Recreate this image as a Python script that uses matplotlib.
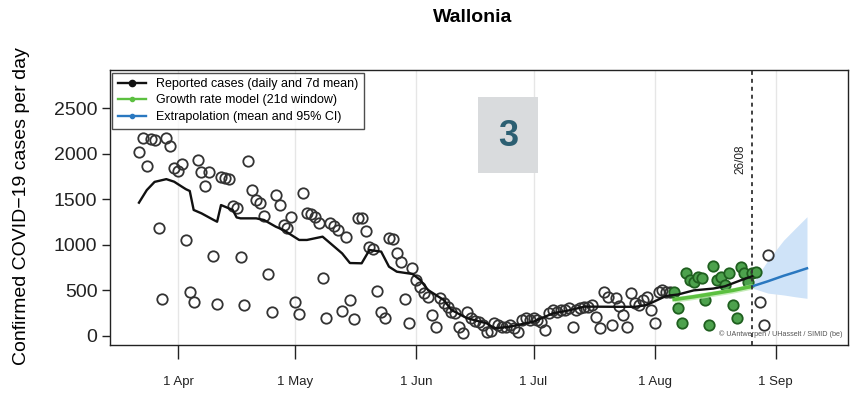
import numpy as np
import matplotlib
matplotlib.use('Agg')
import matplotlib.pyplot as plt
from matplotlib.lines import Line2D
from matplotlib.patches import Rectangle

plt.rcParams['font.family'] = ['Liberation Sans', 'DejaVu Sans']

# ---------------- data ----------------
start_date = '2020-03-22'
cases = [
    2021, 2167, 1864, 2160, 2150, 1181, 406, 2167, 2083, 1838,        # Mar 22 - Mar 31
    1813, 1883, 1053, 486, 369, 1930, 1801, 1645, 1795, 877,          # Apr 1 - Apr 10
    354, 1745, 1735, 1725, 1425, 1400, 863, 340, 1919, 1601,          # Apr 11 - Apr 20
    1491, 1455, 1316, 680, 259, 1546, 1436, 1217, 1181, 1300,         # Apr 21 - Apr 30
    377, 238, 1572, 1345, 1333, 1308, 1235, 640, 194, 1235,           # May 1 - May 10
    1206, 1162, 278, 1082, 395, 186, 1298, 1290, 1155, 972,           # May 11 - May 20
    951, 493, 259, 194, 1071, 1060, 906, 815, 402, 139,               # May 21 - May 30
    742, 614, 534, 470, 431, 230, 102, 413, 358, 322,                 # May 31 - Jun 9
    266, 249, 102, 36, 266, 194, 160, 157, 121, 40,                   # Jun 10 - Jun 19
    50, 139, 120, 100, 102, 120, 90, 47, 175, 194,                    # Jun 20 - Jun 29
    175, 197, 175, 150, 66, 249, 285, 266, 280, 285,                  # Jun 30 - Jul 9
    303, 102, 285, 303, 314, 320, 340, 212, 84, 486,                  # Jul 10 - Jul 19
    431, 121, 413, 330, 230, 102, 468, 358, 340, 395,                 # Jul 20 - Jul 29
    431, 285, 139, 486, 504, 486, 486, 486, 303, 139,                 # Jul 30 - Aug 8
    694, 614, 595, 650, 632, 395, 121, 768, 614, 650,                 # Aug 9 - Aug 18
    559, 694, 340, 194, 760, 687, 595, 687, 705, 376,                 # Aug 19 - Aug 28
    121, 888,                                                         # Aug 29 - Aug 30
]
model_window = ('2020-08-06', '2020-08-27')

mean_dates = ['2020-03-22', '2020-03-24', '2020-03-26', '2020-03-29', '2020-03-31',
              '2020-04-02', '2020-04-03', '2020-04-04', '2020-04-05', '2020-04-07',
              '2020-04-10', '2020-04-11', '2020-04-12', '2020-04-13', '2020-04-15',
              '2020-04-16', '2020-04-17', '2020-04-21', '2020-04-23', '2020-04-26',
              '2020-04-28', '2020-05-02', '2020-05-04', '2020-05-08', '2020-05-10',
              '2020-05-13', '2020-05-15', '2020-05-18', '2020-05-20', '2020-05-23',
              '2020-05-25', '2020-05-27', '2020-05-31', '2020-06-02', '2020-06-04',
              '2020-06-08', '2020-06-10', '2020-06-14', '2020-06-19', '2020-06-21',
              '2020-06-25', '2020-06-27', '2020-07-01', '2020-07-06', '2020-07-10',
              '2020-07-14', '2020-07-22', '2020-07-27', '2020-07-30', '2020-08-01',
              '2020-08-04', '2020-08-07', '2020-08-11', '2020-08-16', '2020-08-19',
              '2020-08-23', '2020-08-26']
mean_vals = [1462, 1600, 1690, 1720, 1692,
             1637, 1610, 1590, 1382, 1345,
             1275, 1253, 1436, 1418, 1382,
             1300, 1290, 1290, 1272, 1199,
             1162, 1053, 1053, 1089, 1016,
             906, 800, 797, 943, 925,
             760, 705, 680, 614, 504,
             395, 285, 194, 139, 84,
             102, 121, 157, 249, 280,
             322, 320, 320, 340, 380,
             440, 455, 500, 520, 545,
             610, 655]

model_dates = ['2020-08-06', '2020-08-11', '2020-08-16', '2020-08-21', '2020-08-26']
model_vals = [400, 430, 465, 500, 545]

extrap_dates = ['2020-08-26', '2020-08-30', '2020-09-03', '2020-09-06', '2020-09-09']
extrap_mean = [545, 600, 660, 700, 742]
extrap_low = [525, 470, 450, 430, 413]
extrap_high = [575, 830, 1050, 1180, 1308]

cutoff_date = '2020-08-26'
cutoff_label = '26/08'

month_ticks = ['2020-04-01', '2020-05-01', '2020-06-01', '2020-07-01', '2020-08-01', '2020-09-01']
month_labels = ['1 Apr', '1 May', '1 Jun', '1 Jul', '1 Aug', '1 Sep']
y_ticks = [0, 500, 1000, 1500, 2000, 2500]

title = 'Wallonia'
ylabel = 'Confirmed COVID\u221219 cases per day'
legend_labels = ['Reported cases (daily and 7d mean)',
                 'Growth rate model (21d window)',
                 'Extrapolation (mean and 95% CI)']
credit = '\u00a9 UAntwerpen / UHasselt / SIMID (be)'

# ---------------- figure ----------------
W, H = 854, 397
fig = plt.figure(figsize=(W / 100, H / 100), dpi=100)
ax_l, ax_r, ax_t, ax_b = 110, 848, 70, 345
ax = fig.add_axes([ax_l / W, 1 - ax_b / H, (ax_r - ax_l) / W, (ax_b - ax_t) / H])

dates = np.datetime64(start_date) + np.arange(len(cases))
cases_a = np.array(cases)
in_model = (dates >= np.datetime64(model_window[0])) & (dates <= np.datetime64(model_window[1]))

# grid at month starts
for m in month_ticks:
    ax.axvline(np.datetime64(m), color='#e6e6e6', lw=1.0, zorder=0)

# black points
ax.plot(dates[~in_model], cases_a[~in_model], 'o', mfc='none', mec='#333333',
        ms=7.5, mew=1.3, zorder=3)
# green points
ax.plot(dates[in_model], cases_a[in_model], 'o', mfc='#4da24d', mec='#1f5f1f',
        ms=7.5, mew=1.3, zorder=4)

# 7d mean line
ax.plot(np.array(mean_dates, dtype='datetime64[D]'), mean_vals, color='#111111',
        lw=1.7, zorder=5)

# growth model
md = np.array(model_dates, dtype='datetime64[D]')
mv = np.array(model_vals)
ax.fill_between(md, mv - 30, mv + 30, color='#b9e8aa', alpha=0.8, lw=0, zorder=5)
ax.plot(md, mv, color='#5cc040', lw=2.6, zorder=6)

# extrapolation
ed = np.array(extrap_dates, dtype='datetime64[D]')
ax.fill_between(ed, extrap_low, extrap_high, color='#cfe3f8', lw=0, zorder=2)
ax.plot(ed, extrap_mean, color='#2a78c0', lw=1.8, zorder=6)

# cutoff
cd = np.datetime64(cutoff_date)
ax.axvline(cd, color='#333333', lw=1.3, ls=(0, (2.2, 2.2)), zorder=7)
ax.text(cd - np.timedelta64(3, 'D'), 1940, cutoff_label, rotation=90, fontsize=8.5,
        ha='center', va='center', color='#222222')

ax.text(0.993, 0.025, credit, transform=ax.transAxes, fontsize=5.2, color='#555555',
        ha='right', va='bottom', zorder=8)

# axes
ax.set_xlim(np.datetime64('2020-03-14') + np.timedelta64(14, 'h'),
            np.datetime64('2020-09-19') + np.timedelta64(12, 'h'))
ax.set_ylim(-99, 2917)
ax.set_yticks(y_ticks)
ax.set_yticklabels([str(v) for v in y_ticks])
ax.set_xticks(np.array(month_ticks, dtype='datetime64[D]'))
ax.set_xticklabels(month_labels)
ax.tick_params(axis='y', labelsize=14, length=6, width=1, pad=3, colors='#222222')
ax.tick_params(axis='x', labelsize=9.5, length=10, width=1, pad=12, colors='#222222')
for s in ax.spines.values():
    s.set_linewidth(1.0)
    s.set_color('#222222')

# legend
handles = [Line2D([], [], color='#111111', lw=1.7, marker='o', ms=4.5),
           Line2D([], [], color='#5cc040', lw=1.7, marker='o', ms=3),
           Line2D([], [], color='#2a78c0', lw=1.7, marker='o', ms=3)]
leg = ax.legend(handles, legend_labels, loc='upper left', bbox_to_anchor=(0.0, 1.0),
                fontsize=9, frameon=True, fancybox=False, handlelength=2.2,
                handletextpad=0.8, labelspacing=0.35, borderpad=0.45, borderaxespad=0.2)
leg.get_frame().set_edgecolor('#222222')
leg.get_frame().set_linewidth(1.0)
leg.set_zorder(9)

fig.text(0.553, 1 - 18 / H, title, fontsize=14, fontweight='bold', ha='center', va='center')
fig.text(22 / W, 1 - 206 / H, ylabel, fontsize=14, rotation=90, ha='center', va='center')

# "3" badge
fig.patches.append(Rectangle((478 / W, 1 - 173 / H), 60 / W, 76 / H, transform=fig.transFigure,
                             facecolor='#d9dbdd', edgecolor='none', zorder=10))
fig.text(508 / W, 1 - 137 / H, '3', fontsize=26, fontweight='bold', color='#2c5f72',
         ha='center', va='center', zorder=11)

fig.savefig('out.png', dpi=100)
